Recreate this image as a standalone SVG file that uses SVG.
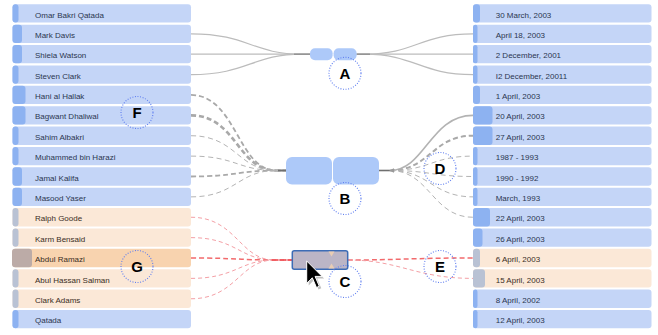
<svg xmlns="http://www.w3.org/2000/svg" width="658" height="335" viewBox="0 0 658 335">
<style>
.bg{fill:#ffffff}
.nb{fill:#c4d5f7}
.no{fill:#fbe8d7}
.nh{fill:#f8d3af}
.ab{fill:#8db2f1}
.ag{fill:#b9c2d4}
.ah{fill:#bcaba7}
.t{font-family:"Liberation Sans",Arial,sans-serif;font-size:8px;fill:#2b3650}
.to{font-family:"Liberation Sans",Arial,sans-serif;font-size:8px;fill:#3a2d24}
.g{fill:none;stroke:#bcbcbc;stroke-width:1.2}
.gd{fill:none;stroke:#b4b4b4;stroke-width:1;stroke-dasharray:5 3.5}
.gdt{fill:none;stroke:#a9a9a9;stroke-width:2.2;stroke-dasharray:5 3}
.rd{fill:none;stroke:#f4a0a6;stroke-width:1;stroke-dasharray:4 3}
.rdt{fill:none;stroke:#f26a6c;stroke-width:1.5;stroke-dasharray:5 3}
.mb{fill:#adc9f9}
.lc{fill:none;stroke:#5f7ef0;stroke-width:1.1;stroke-dasharray:1 1.6}
.lt{font-family:"Liberation Sans",Arial,sans-serif;font-size:15px;font-weight:bold;fill:#000;text-anchor:middle}
</style>
<rect class="bg" x="0" y="0" width="658" height="335"/>

<g id="connectors">
  <!-- A left -->
  <path class="g" d="M191,33.83 C248,33.83 252,54.21 302,54.21 L310,54.21"/>
  <path class="g" d="M191,54.21 L310,54.21"/>
  <path class="g" d="M191,74.59 C248,74.59 252,54.21 302,54.21 L310,54.21"/>
  <path fill="none" stroke="#8f8f8f" stroke-width="1.3" d="M294,54.21 L310,54.21"/>
  <!-- A right -->
  <path class="g" d="M356.5,54.21 L365,54.21 C415,54.21 420,33.83 473,33.83"/>
  <path class="g" d="M356.5,54.21 L473,54.21"/>
  <path class="g" d="M356.5,54.21 L365,54.21 C415,54.21 420,74.59 473,74.59"/>
  <path fill="none" stroke="#8f8f8f" stroke-width="1.3" d="M356.5,54.21 L370,54.21"/>
  <!-- B left -->
  <path class="gdt" style="stroke-width:1.8" d="M191,94.97 C236,94.97 238,170.5 276,170.5 L286,170.5"/>
  <path class="gdt" style="stroke-width:2.6" d="M191,115.35 C236,115.35 238,170.5 276,170.5 L286,170.5"/>
  <path class="gd" d="M191,135.73 C236,135.73 238,170.5 276,170.5 L286,170.5"/>
  <path class="gd" d="M191,156.11 C236,156.11 238,170.5 276,170.5 L286,170.5"/>
  <path class="gdt" style="stroke-width:1.8" d="M191,176.49 C236,176.49 238,170.5 276,170.5 L286,170.5"/>
  <path class="gd" d="M191,196.87 C236,196.87 238,170.5 276,170.5 L286,170.5"/>
  <path fill="none" stroke="#6f6f6f" stroke-width="1.6" d="M278,170.5 L286,170.5"/>
  <!-- B right -->
  <path fill="none" stroke="#6f6f6f" stroke-width="1.6" d="M379,170.5 L390,170.5"/>
  <path fill="none" stroke="#b3b3b3" stroke-width="1.6" d="M390,170.5 C425,170.5 430,115.35 473,115.35"/>
  <path class="gdt" style="stroke-width:2" d="M390,170.5 C430,170.5 432,135.73 473,135.73"/>
  <path class="gd" d="M390,170.5 C430,170.5 432,156.11 473,156.11"/>
  <path class="gd" d="M390,170.5 C430,170.5 432,176.49 473,176.49"/>
  <path class="gd" d="M390,170.5 C430,170.5 432,196.87 473,196.87"/>
  <path class="gd" d="M390,170.5 C430,170.5 432,217.25 473,217.25"/>
  <polygon fill="#9a9a9a" points="389,170.5 394,168.3 394,172.7"/>
  <!-- C left -->
  <path class="rd" d="M191,217.25 C236,217.25 240,260 274,260 L292,260"/>
  <path class="rd" d="M191,237.63 C236,237.63 240,260 274,260 L292,260"/>
  <path class="rdt" d="M191,258.01 C236,258.01 240,260 274,260 L292,260"/>
  <path class="rd" d="M191,278.39 C236,278.39 240,260 274,260 L292,260"/>
  <path class="rd" d="M191,298.77 C236,298.77 240,260 274,260 L292,260"/>
  <path fill="none" stroke="#f04c50" stroke-width="1.5" stroke-dasharray="6 2" d="M272,260 L292,260"/>
  <!-- C right -->
  <path class="rdt" d="M347.7,260 C400,260 410,258.01 473,258.01"/>
  <path class="rd" d="M347.7,260 C400,260 415,278.39 473,278.39"/>
</g>

<g id="left-nodes">
  <g id="n-omar" transform="translate(12.5,4.3)"><rect class="nb" width="178.5" height="18.3" rx="3"/><rect class="ab" width="6" height="18.3" rx="3"/><text class="t" x="22.5" y="13.3">Omar Bakri Qatada</text></g>
  <g id="n-mark" transform="translate(12.5,24.68)"><rect class="nb" width="178.5" height="18.3" rx="3"/><rect class="ab" width="9.5" height="18.3" rx="3"/><text class="t" x="22.5" y="13.3">Mark Davis</text></g>
  <g id="n-shiela" transform="translate(12.5,45.06)"><rect class="nb" width="178.5" height="18.3" rx="3"/><rect class="ab" width="9.5" height="18.3" rx="3"/><text class="t" x="22.5" y="13.3">Shiela Watson</text></g>
  <g id="n-steven" transform="translate(12.5,65.44)"><rect class="nb" width="178.5" height="18.3" rx="3"/><rect class="ab" width="6" height="18.3" rx="3"/><text class="t" x="22.5" y="13.3">Steven Clark</text></g>
  <g id="n-hani" transform="translate(12.5,85.82)"><rect class="nb" width="178.5" height="18.3" rx="3"/><rect class="ab" width="13" height="18.3" rx="3"/><text class="t" x="22.5" y="13.3">Hani al Hallak</text></g>
  <g id="n-bagwant" transform="translate(12.5,106.2)"><rect class="nb" width="178.5" height="18.3" rx="3"/><rect class="ab" width="13" height="18.3" rx="3"/><text class="t" x="22.5" y="13.3">Bagwant Dhaliwal</text></g>
  <g id="n-sahim" transform="translate(12.5,126.58)"><rect class="nb" width="178.5" height="18.3" rx="3"/><rect class="ab" width="6" height="18.3" rx="3"/><text class="t" x="22.5" y="13.3">Sahim Albakri</text></g>
  <g id="n-muhammed" transform="translate(12.5,146.96)"><rect class="nb" width="178.5" height="18.3" rx="3"/><rect class="ab" width="6" height="18.3" rx="3"/><text class="t" x="22.5" y="13.3">Muhammed bin Harazi</text></g>
  <g id="n-jamal" transform="translate(12.5,167.34)"><rect class="nb" width="178.5" height="18.3" rx="3"/><rect class="ab" width="9.5" height="18.3" rx="3"/><text class="t" x="22.5" y="13.3">Jamal Kalifa</text></g>
  <g id="n-masood" transform="translate(12.5,187.72)"><rect class="nb" width="178.5" height="18.3" rx="3"/><rect class="ab" width="9.5" height="18.3" rx="3"/><text class="t" x="22.5" y="13.3">Masood Yaser</text></g>
  <g id="n-ralph" transform="translate(12.5,208.1)"><rect class="no" width="178.5" height="18.3" rx="3"/><rect class="ag" width="6" height="18.3" rx="3"/><text class="to" x="22.5" y="13.3">Ralph Goode</text></g>
  <g id="n-karm" transform="translate(12.5,228.48)"><rect class="no" width="178.5" height="18.3" rx="3"/><rect class="ag" width="6" height="18.3" rx="3"/><text class="to" x="22.5" y="13.3">Karm Bensaid</text></g>
  <g id="n-abdul" transform="translate(12.5,248.86)"><rect class="nh" width="178.5" height="18.3" rx="3"/><rect class="ah" x="-0.5" width="20" height="18.3" rx="3"/><text class="to" x="22.5" y="13.3">Abdul Ramazi</text></g>
  <g id="n-abul" transform="translate(12.5,269.24)"><rect class="no" width="178.5" height="18.3" rx="3"/><rect class="ag" width="6" height="18.3" rx="3"/><text class="to" x="22.5" y="13.3">Abul Hassan Salman</text></g>
  <g id="n-clark" transform="translate(12.5,289.62)"><rect class="no" width="178.5" height="18.3" rx="3"/><rect class="ag" width="6" height="18.3" rx="3"/><text class="to" x="22.5" y="13.3">Clark Adams</text></g>
  <g id="n-qatada" transform="translate(12.5,310)"><rect class="nb" width="178.5" height="18.3" rx="3"/><rect class="ab" width="6" height="18.3" rx="3"/><text class="t" x="22.5" y="13.3">Qatada</text></g>
</g>

<g id="right-nodes">
  <g id="d-30mar" transform="translate(473,4.3)"><rect class="nb" width="178.5" height="18.3" rx="3"/><rect class="ab" width="7" height="18.3" rx="3"/><text class="t" x="22.7" y="13.3">30 March, 2003</text></g>
  <g id="d-apr18" transform="translate(473,24.68)"><rect class="nb" width="178.5" height="18.3" rx="3"/><rect class="ab" width="4.5" height="18.3" rx="2.2"/><text class="t" x="22.7" y="13.3">April 18, 2003</text></g>
  <g id="d-2dec" transform="translate(473,45.06)"><rect class="nb" width="178.5" height="18.3" rx="3"/><rect class="ab" width="4.5" height="18.3" rx="2.2"/><text class="t" x="22.7" y="13.3">2 December, 2001</text></g>
  <g id="d-i2dec" transform="translate(473,65.44)"><rect class="nb" width="178.5" height="18.3" rx="3"/><rect class="ab" width="4.5" height="18.3" rx="2.2"/><text class="t" x="22.7" y="13.3">I2 December, 20011</text></g>
  <g id="d-1apr" transform="translate(473,85.82)"><rect class="nb" width="178.5" height="18.3" rx="3"/><rect class="ab" width="7" height="18.3" rx="3"/><text class="t" x="22.7" y="13.3">1 April, 2003</text></g>
  <g id="d-20apr" transform="translate(473,106.2)"><rect class="nb" width="178.5" height="18.3" rx="3"/><rect class="ab" width="19.5" height="18.3" rx="3"/><text class="t" x="22.7" y="13.3">20 April, 2003</text></g>
  <g id="d-27apr" transform="translate(473,126.58)"><rect class="nb" width="178.5" height="18.3" rx="3"/><rect class="ab" width="19.5" height="18.3" rx="3"/><text class="t" x="22.7" y="13.3">27 April, 2003</text></g>
  <g id="d-1987" transform="translate(473,146.96)"><rect class="nb" width="178.5" height="18.3" rx="3"/><rect class="ab" width="4.5" height="18.3" rx="2.2"/><text class="t" x="22.7" y="13.3">1987 - 1993</text></g>
  <g id="d-1990" transform="translate(473,167.34)"><rect class="nb" width="178.5" height="18.3" rx="3"/><rect class="ab" width="4.5" height="18.3" rx="2.2"/><text class="t" x="22.7" y="13.3">1990 - 1992</text></g>
  <g id="d-mar1993" transform="translate(473,187.72)"><rect class="nb" width="178.5" height="18.3" rx="3"/><rect class="ab" width="4.5" height="18.3" rx="2.2"/><text class="t" x="22.7" y="13.3">March, 1993</text></g>
  <g id="d-22apr" transform="translate(473,208.1)"><rect class="nb" width="178.5" height="18.3" rx="3"/><rect class="ab" width="17" height="18.3" rx="3"/><text class="t" x="22.7" y="13.3">22 April, 2003</text></g>
  <g id="d-26apr" transform="translate(473,228.48)"><rect class="nb" width="178.5" height="18.3" rx="3"/><rect class="ab" width="9.5" height="18.3" rx="3"/><text class="t" x="22.7" y="13.3">26 April, 2003</text></g>
  <g id="d-6apr" transform="translate(473,248.86)"><rect class="no" width="178.5" height="18.3" rx="3"/><rect class="ag" width="7" height="18.3" rx="3"/><text class="to" x="22.7" y="13.3">6 April, 2003</text></g>
  <g id="d-15apr" transform="translate(473,269.24)"><rect class="no" width="178.5" height="18.3" rx="3"/><rect class="ag" width="12" height="18.3" rx="3"/><text class="to" x="22.7" y="13.3">15 April, 2003</text></g>
  <g id="d-8apr" transform="translate(473,289.62)"><rect class="nb" width="178.5" height="18.3" rx="3"/><rect class="ab" width="4.5" height="18.3" rx="2.2"/><text class="t" x="22.7" y="13.3">8 April, 2002</text></g>
  <g id="d-12apr" transform="translate(473,310)"><rect class="nb" width="178.5" height="18.3" rx="3"/><rect class="ab" width="4.5" height="18.3" rx="2.2"/><text class="t" x="22.7" y="13.3">12 April, 2003</text></g>
</g>

<g id="node-A">
  <rect class="mb" x="310" y="48.2" width="22.6" height="12" rx="5"/>
  <rect class="mb" x="333.6" y="48.2" width="23" height="12" rx="5"/>
</g>
<g id="node-B">
  <rect class="mb" x="286" y="157" width="46" height="27.5" rx="6"/>
  <rect class="mb" x="333" y="157" width="46" height="27.5" rx="6"/>
</g>
<g id="node-C">
  <rect x="292.3" y="250.7" width="55.4" height="18.6" rx="2" fill="#bbb5c6" stroke="#3d6cb5" stroke-width="1.5"/>
  <polygon fill="#e9cdb4" points="328.5,251.6 334.5,251.6 331.5,256.5"/>
  <polygon fill="#e9cdb4" points="328.5,268.4 334.5,268.4 331.5,263.5"/>
</g>

<g id="labels">
  <circle class="lc" cx="345" cy="73.3" r="16"/><text class="lt" x="345" y="78.8">A</text>
  <circle class="lc" cx="345" cy="198.5" r="16"/><text class="lt" x="345" y="204">B</text>
  <circle class="lc" cx="345" cy="281.5" r="16"/><text class="lt" x="345" y="287">C</text>
  <circle class="lc" cx="440" cy="168.5" r="16"/><text class="lt" x="440" y="174">D</text>
  <circle class="lc" cx="440" cy="266.5" r="16"/><text class="lt" x="440" y="272">E</text>
  <circle class="lc" cx="137" cy="112.5" r="16"/><text class="lt" x="137" y="118">F</text>
  <circle class="lc" cx="137" cy="266.5" r="16"/><text class="lt" x="137" y="272">G</text>
</g>

<g id="cursor">
  <polygon fill="#000" opacity="0.25" transform="translate(308.7,263)" points="0,0 0,22.4 5.6,16.8 9.8,26.6 12.6,25.2 8.4,15.4 15.4,15.4"/>
  <polygon fill="#000" stroke="#fff" stroke-width="1" stroke-linejoin="round" transform="translate(306.7,261)" points="0,0 0,22.4 5.6,16.8 9.8,26.6 12.6,25.2 8.4,15.4 15.4,15.4"/>
</g>
</svg>
